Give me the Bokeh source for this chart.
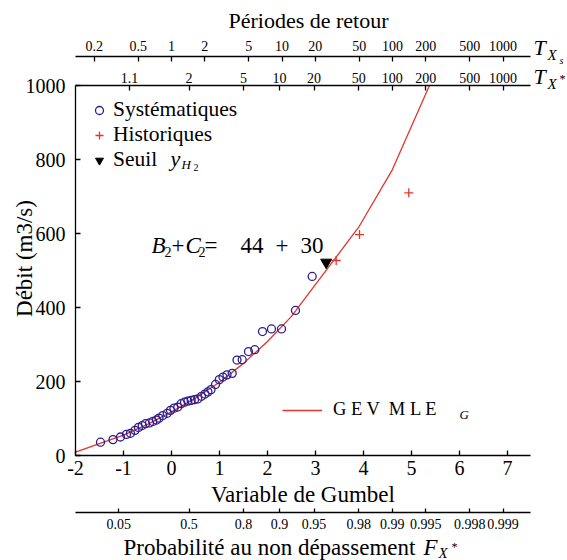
import math
from bokeh.plotting import figure
from bokeh.models import Range1d, LinearAxis, FixedTicker, Label, Legend, LegendItem
from bokeh.embed import file_html
from bokeh.resources import INLINE

# ---------------- data ----------------
# Systematic floods: Gumbel reduced variable and discharge (m3/s)
sys_u = [-1.479, -1.219, -1.063, -0.938, -0.854, -0.760, -0.688, -0.610, -0.542, -0.458,
         -0.390, -0.313, -0.260, -0.181, -0.090, -0.021, 0.052, 0.131, 0.202, 0.271,
         0.340, 0.410, 0.479, 0.548, 0.625, 0.698, 0.760, 0.823, 0.917, 0.996,
         1.073, 1.156, 1.265, 1.365, 1.473, 1.604, 1.735, 1.896, 2.083, 2.292,
         2.583, 2.931]
sys_q = [36, 43, 50, 57, 60, 68, 76, 81, 86, 88,
         92, 96, 101, 108, 114, 122, 128, 131, 140, 144,
         147, 149, 151, 153, 160, 166, 172, 178, 192, 205,
         212, 218, 222, 258, 259, 281, 286, 335, 342, 342,
         392, 484]
# Historical floods
hist_u = [3.431, 3.917, 4.944]
hist_q = [527, 597, 710]
# Threshold
seuil_u = [3.223]
seuil_q = [522]
# GEV MLE curve (visible part, ends on the top axis)
gev_u = [-2.0, -1.5, -1.0, -0.5, 0.0, 0.5, 1.0, 1.5, 2.0, 2.5, 2.97, 3.90, 4.60, 5.375]
gev_q = [9, 32, 55, 84, 118, 155, 198, 249, 308, 376, 457, 617, 772, 1000]

y_ticks = [0, 200, 400, 600, 800, 1000]
gumbel_ticks = [-2, -1, 0, 1, 2, 3, 4, 5, 6, 7]
t_star_labels = ["1.1", "2", "5", "10", "20", "50", "100", "200", "500", "1000"]
t_s_labels = ["0.2", "0.5", "1", "2", "5", "10", "20", "50", "100", "200", "500", "1000"]
f_labels = ["0.05", "0.5", "0.8", "0.9", "0.95", "0.98", "0.99", "0.995", "0.998", "0.999"]

U_MIN, U_MAX = -2, 7.48
Q_MIN, Q_MAX = 0, 1000

# ---------------- style / layout ----------------
FONT = "Liberation Serif"
BLUE = "#2b1d8f"
RED = "#e3352b"
W, H = 567, 560
PX_L, PX_R, PX_T, PX_B = 75, 530, 85, 455          # plot box in pixels
SX = (PX_R - PX_L) / (U_MAX - U_MIN)                 # px per Gumbel unit
SY = (PX_B - PX_T) / (Q_MAX - Q_MIN)                 # px per m3/s


def X(px):
    return U_MIN + (px - PX_L) / SX


def Y(py):
    return Q_MIN + (PX_B - py) / SY


# tick positions on the Gumbel scale
t_star_pos = [round(-math.log(-math.log(1 - 1 / float(t))), 6) for t in t_star_labels]
t_s_pos = [round(math.log(float(t)), 6) for t in t_s_labels]
f_pos = [round(-math.log(-math.log(float(f))), 6) for f in f_labels]

p = figure(width=W, height=H, x_range=Range1d(X(0), X(W)), y_range=Range1d(Y(H), Y(0)),
           x_axis_type=None, y_axis_type=None, output_backend="svg", toolbar_location=None,
           min_border_left=0, min_border_right=0, min_border_top=0, min_border_bottom=0)
p.title.visible = False
p.outline_line_color = None
p.background_fill_color = "white"
p.border_fill_color = "white"


def style(ax, size, standoff, tick_in=5):
    ax.major_tick_in = tick_in
    ax.major_tick_out = 0
    ax.minor_tick_line_color = None
    ax.axis_line_width = 1.3
    ax.major_tick_line_width = 1.3
    ax.axis_line_color = "black"
    ax.major_tick_line_color = "black"
    ax.major_label_text_font = FONT
    ax.major_label_text_font_size = f"{size}px"
    ax.major_label_text_color = "black"
    ax.major_label_standoff = standoff


yax = LinearAxis(ticker=FixedTicker(ticks=y_ticks), fixed_location=U_MIN,
                 bounds=(Q_MIN, Q_MAX))
style(yax, 20, 10)
p.add_layout(yax, "left")

gax = LinearAxis(ticker=FixedTicker(ticks=gumbel_ticks), fixed_location=Q_MIN,
                 bounds=(U_MIN, U_MAX),
                 major_label_overrides={t: str(t) for t in gumbel_ticks})
style(gax, 20, 5)
p.add_layout(gax, "below")

fax = LinearAxis(ticker=FixedTicker(ticks=f_pos), fixed_location=Y(512),
                 bounds=(U_MIN, U_MAX),
                 major_label_overrides={k: v for k, v in zip(f_pos, f_labels)})
style(fax, 14, 6, tick_in=4)
p.add_layout(fax, "below")

tstar = LinearAxis(ticker=FixedTicker(ticks=t_star_pos), fixed_location=Q_MAX,
                   bounds=(U_MIN, U_MAX),
                   major_label_overrides={k: v for k, v in zip(t_star_pos, t_star_labels)})
style(tstar, 14, 3)
p.add_layout(tstar, "above")

ts = LinearAxis(ticker=FixedTicker(ticks=t_s_pos), fixed_location=Y(56),
                bounds=(U_MIN, U_MAX),
                major_label_overrides={k: v for k, v in zip(t_s_pos, t_s_labels)})
style(ts, 14, 6)
p.add_layout(ts, "above")

# ---------------- glyphs ----------------
r_gev = p.line(gev_u, gev_q, line_color=RED, line_width=1.3)
r_sys = p.scatter(sys_u, sys_q, marker="circle", size=8, fill_color=None,
                  line_color=BLUE, line_width=1.3)
r_hist = p.scatter(hist_u, hist_q, marker="cross", size=9, line_color=RED, line_width=1.3)
r_seuil = p.scatter(seuil_u, seuil_q, marker="inverted_triangle", size=11,
                    fill_color="black", line_color="black")

leg = Legend(items=[LegendItem(label="Systématiques", renderers=[r_sys]),
                    LegendItem(label="Historiques", renderers=[r_hist]),
                    LegendItem(label="Seuil", renderers=[r_seuil])],
             location=(88, 388), border_line_color=None, background_fill_alpha=0,
             label_text_font=FONT, label_text_font_size="21.5px", label_text_color="black",
             glyph_width=22, glyph_height=20, label_height=20, spacing=0, padding=0,
             margin=0, label_standoff=3)
p.add_layout(leg)

leg2 = Legend(items=[LegendItem(label="G E V \u00a0M L E", renderers=[r_gev])],
              location=(282, 140), border_line_color=None, background_fill_alpha=0,
              label_text_font=FONT, label_text_font_size="18.5px", label_text_color="black",
              glyph_width=40, glyph_height=20, label_height=20, spacing=0, padding=0,
              margin=0, label_standoff=11)
p.add_layout(leg2)


# ---------------- text annotations (pixel positions converted to data units) ----------------
def txt(s, px, py, size, italic=False, align="left", baseline="alphabetic", angle=0):
    if baseline == "alphabetic":
        py = py - 0.28 * size      # bokeh places the alphabetic baseline slightly lower
    p.add_layout(Label(x=X(px), y=Y(py), text=s, text_font=FONT, text_font_size=f"{size}px",
                       text_font_style="italic" if italic else "normal", text_color="black",
                       text_align=align, text_baseline=baseline, angle=angle))


# legend subscript y_{H_2}
txt("y", 170, 164, 22, italic=True)
txt("H", 181, 168, 13, italic=True)
txt("2", 193, 170, 10)
# GEV subscript
txt("G", 459, 418, 13, italic=True)
# B2 + C2 = 44 + 30
txt("B", 151, 251, 23, italic=True)
txt("2", 164, 255, 14)
txt("+", 171, 251, 23)
txt("C", 185, 251, 23, italic=True)
txt("2", 198, 255, 14)
txt("=", 204, 251, 23)
txt("44", 240, 251, 23)
txt("+", 275, 251, 23)
txt("30", 300, 251, 23)
# T axis symbols
txt("T", 533, 82, 22, italic=True)
txt("X", 547, 88, 15, italic=True)
txt("*", 559, 82, 12)
txt("T", 533, 53, 22, italic=True)
txt("X", 547, 59, 15, italic=True)
txt("s", 559, 63, 10, italic=True)
# axis titles
txt("Périodes de retour", 308, 26, 22, align="center")
txt("Variable de Gumbel", 302.5, 500, 23, align="center")
txt("Probabilité au non dépassement", 123, 553, 23)
txt("F", 423, 553, 23, italic=True)
txt("X", 438, 557, 15, italic=True)
txt("*", 451, 550, 12)
txt("Débit (m3/s)", 24, 258, 23, align="center", baseline="middle", angle=math.pi / 2)

open("out.html", "w").write(file_html(p, INLINE))
